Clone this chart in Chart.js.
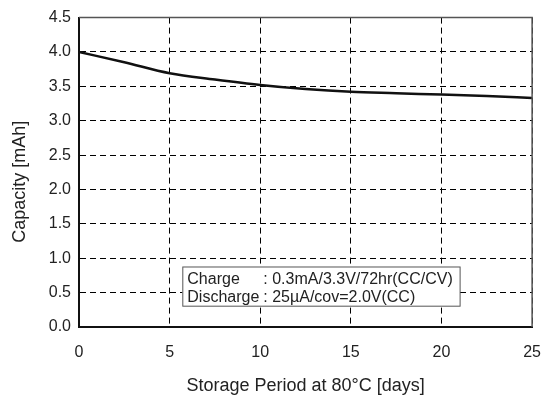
<!DOCTYPE html>
<html>
<head>
<meta charset="utf-8">
<script src="https://cdn.jsdelivr.net/npm/chart.js@4.4.0/dist/chart.umd.min.js"></script>
<style>
  html, body { margin: 0; padding: 0; background: #fff; }
  #wrap { width: 557px; height: 406px; position: relative; }
</style>
</head>
<body>
<div id="wrap"><canvas id="c"></canvas></div>
<script>
// ---- data ----
const storageDays = [0, 2.5, 5, 7.5, 10, 12.5, 15, 17.5, 20, 22.5, 25];
const capacityMAh = [4.00, 3.85, 3.69, 3.60, 3.52, 3.46, 3.42, 3.40, 3.38, 3.36, 3.33];
const xTickValues = [0, 5, 10, 15, 20, 25];
const yTickValues = [0.0, 0.5, 1.0, 1.5, 2.0, 2.5, 3.0, 3.5, 4.0, 4.5];
const xTitle = 'Storage Period at 80\u00B0C [days]';
const yTitle = 'Capacity [mAh]';
const noteLabels = ['Charge', 'Discharge'];
const noteValues = [': 0.3mA/3.3V/72hr(CC/CV)', ': 25\u00B5A/cov=2.0V(CC)'];

const FONT = "'Liberation Sans', Arial, Helvetica, sans-serif";

const framePlugin = {
  id: 'frame',
  afterDraw(chart) {
    const {ctx, chartArea: a, scales} = chart;
    ctx.save();
    // top and right frame lines
    ctx.strokeStyle = '#555';
    ctx.lineWidth = 1.5;
    ctx.beginPath();
    ctx.moveTo(a.left, a.top);
    ctx.lineTo(a.right, a.top);
    ctx.lineTo(a.right, a.bottom);
    ctx.stroke();

    // note box
    const x = scales.x, y = scales.y;
    const bx0 = x.getPixelForValue(5.7), bx1 = x.getPixelForValue(21.0);
    const by0 = y.getPixelForValue(0.88), by1 = y.getPixelForValue(0.31);
    ctx.fillStyle = '#fff';
    ctx.fillRect(bx0, by0, bx1 - bx0, by1 - by0);
    ctx.strokeStyle = '#555';
    ctx.lineWidth = 1;
    ctx.strokeRect(bx0 + 0.5, by0 + 0.5, bx1 - bx0, by1 - by0);
    ctx.fillStyle = '#222';
    ctx.font = '16px ' + FONT;
    ctx.textBaseline = 'alphabetic';
    ctx.textAlign = 'left';
    const tx = bx0 + 5, colonX = bx0 + 81;
    const base = [by0 + 17.5, by0 + 35.5];
    for (let i = 0; i < noteLabels.length; i++) {
      ctx.fillText(noteLabels[i], tx, base[i]);
      ctx.fillText(noteValues[i], colonX, base[i]);
    }

    // y axis title
    ctx.save();
    ctx.translate(20, (a.top + a.bottom) / 2 + 9.5);
    ctx.rotate(-Math.PI / 2);
    ctx.textAlign = 'center';
    ctx.textBaseline = 'middle';
    ctx.font = '18px ' + FONT;
    ctx.fillStyle = '#222';
    ctx.fillText(yTitle, 0, 0);
    ctx.restore();
    ctx.restore();
  }
};

new Chart(document.getElementById('c'), {
  type: 'line',
  data: {
    datasets: [{
      data: storageDays.map((d, i) => ({x: d, y: capacityMAh[i]})),
      borderColor: '#111',
      borderWidth: 2.5,
      pointRadius: 0,
      fill: false,
      cubicInterpolationMode: 'monotone'
    }]
  },
  options: {
    responsive: true,
    maintainAspectRatio: false,
    animation: false,
    layout: { padding: { top: 16, right: 17, left: 0, bottom: 0 } },
    plugins: { legend: { display: false }, tooltip: { enabled: false } },
    scales: {
      x: {
        type: 'linear',
        min: 0, max: 25,
        afterBuildTicks(s) { s.ticks = xTickValues.map(v => ({value: v})); },
        afterFit(s) { s.height = 79; },
        ticks: {
          padding: 16,
          color: '#222',
          font: { family: FONT, size: 16 },
          maxRotation: 0
        },
        grid: { color: '#000', lineWidth: 1, tickLength: 0, drawTicks: false },
        border: { display: true, color: '#111', width: 2, dash: [6, 4] },
        title: {
          display: true, text: xTitle, color: '#222',
          font: { family: FONT, size: 18 },
          padding: { top: 0, bottom: 9 }
        }
      },
      y: {
        type: 'linear',
        min: 0, max: 4.5,
        afterBuildTicks(s) { s.ticks = yTickValues.map(v => ({value: v})); },
        afterFit(s) { s.width = 79; },
        ticks: {
          padding: 8,
          color: '#222',
          font: { family: FONT, size: 16 },
          callback: v => Number(v).toFixed(1)
        },
        grid: { color: '#000', lineWidth: 1, tickLength: 0, drawTicks: false },
        border: { display: true, color: '#111', width: 2, dash: [6, 4] }
      }
    }
  },
  plugins: [framePlugin]
});
</script>
</body>
</html>
